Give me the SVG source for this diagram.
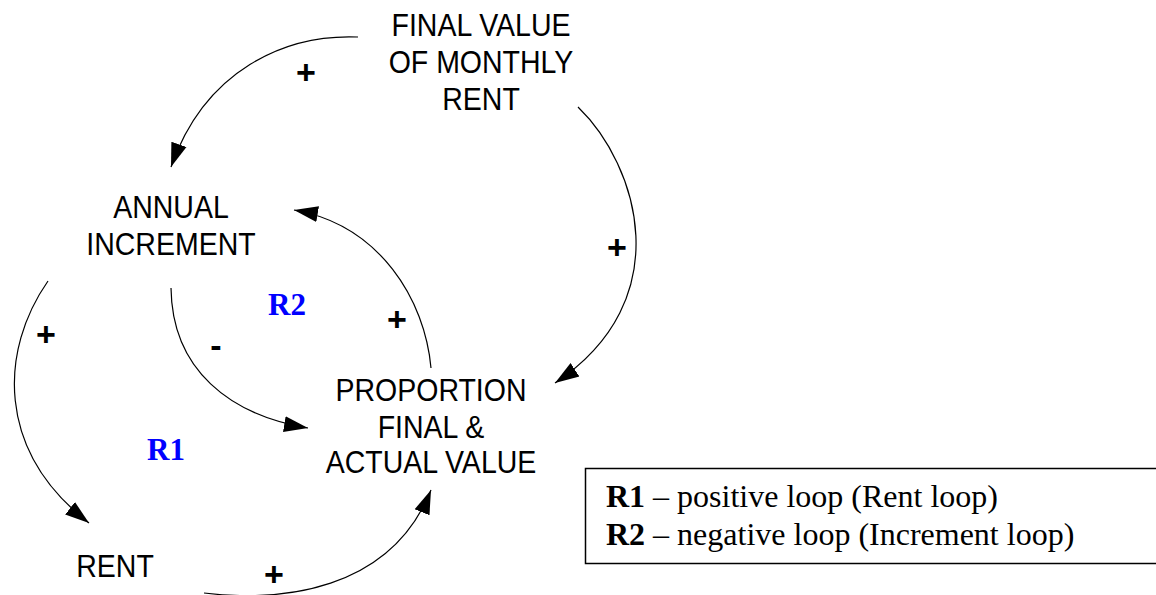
<svg xmlns="http://www.w3.org/2000/svg" width="1156" height="595" viewBox="0 0 1156 595">
<style>
.node{font-family:"Liberation Sans",Arial,sans-serif;font-size:31px;fill:#000;text-anchor:middle}
.pol{font-family:"Liberation Sans",Arial,sans-serif;font-size:34px;font-weight:bold;fill:#000;text-anchor:middle}
.loop{font-family:"Liberation Serif","Times New Roman",serif;font-size:31px;font-weight:bold;fill:#0000ff;text-anchor:middle}
.leg{font-family:"Liberation Serif","Times New Roman",serif;font-size:32px;fill:#000}
.link{fill:none;stroke:#000;stroke-width:1.2;marker-end:url(#ah)}
</style>
<defs>
<marker id="ah" markerUnits="userSpaceOnUse" markerWidth="26" markerHeight="18" viewBox="0 0 26 18" refX="24" refY="9" orient="auto">
<path d="M0,1 L24,9 L0,17 Z" fill="#000"/>
</marker>
</defs>
<rect width="1156" height="595" fill="#fff"/>
<g id="connectors">
<path class="link" d="M358,37 C285,34 205,70 171,167"/>
<path class="link" d="M578,107 C638,165 680,300 555,383"/>
<path class="link" d="M431,368 C425,300 380,225 294,210"/>
<path class="link" d="M171,288 C172,370 230,415 308,428"/>
<path class="link" d="M48,281 C0,350 -5,450 89,523"/>
<path class="link" d="M204,593 C280,602 390,592 431,490"/>
</g>
<g id="polarities">
<text class="pol" x="306" y="84">+</text>
<text class="pol" x="617" y="259">+</text>
<text class="pol" x="397" y="331">+</text>
<text class="pol" x="216" y="357">-</text>
<text class="pol" x="46" y="346">+</text>
<text class="pol" x="274" y="586">+</text>
</g>
<g id="node-final-value" transform="translate(481,0) scale(0.92,1)">
<text class="node" x="0" y="36">FINAL VALUE</text>
<text class="node" x="0" y="73">OF MONTHLY</text>
<text class="node" x="0" y="110">RENT</text>
</g>
<g id="node-annual-increment" transform="translate(171,0) scale(0.92,1)">
<text class="node" x="0" y="218">ANNUAL</text>
<text class="node" x="0" y="255">INCREMENT</text>
</g>
<g id="node-proportion" transform="translate(431,0) scale(0.92,1)">
<text class="node" x="0" y="401">PROPORTION</text>
<text class="node" x="0" y="438">FINAL &amp;</text>
<text class="node" x="0" y="473">ACTUAL VALUE</text>
</g>
<g id="node-rent" transform="translate(115,0) scale(0.92,1)">
<text class="node" x="0" y="577">RENT</text>
</g>
<g id="loop-labels">
<text class="loop" x="287" y="315">R2</text>
<text class="loop" x="166" y="460">R1</text>
</g>
<g id="legend">
<rect x="585.5" y="468.5" width="600" height="95" fill="none" stroke="#000" stroke-width="1.5"/>
<text class="leg" x="606" y="507"><tspan font-weight="bold">R1</tspan> – positive loop (Rent loop)</text>
<text class="leg" x="606" y="545"><tspan font-weight="bold">R2</tspan> – negative loop (Increment loop)</text>
</g>
</svg>
